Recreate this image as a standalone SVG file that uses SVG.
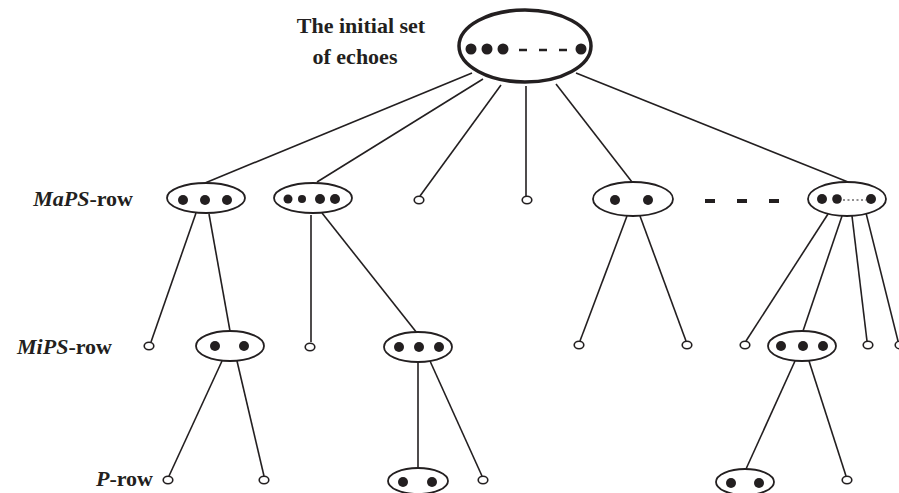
<svg xmlns="http://www.w3.org/2000/svg" width="899" height="493" viewBox="0 0 899 493">
<style>
.lbl{font-family:"Liberation Serif","Times New Roman",serif;font-weight:bold;font-size:22px;fill:#231f20}
.it{font-style:italic}
.node{fill:#fff;stroke:#231f20;stroke-width:1.8}
.root{fill:#fff;stroke:#231f20;stroke-width:3.5}
.leaf{fill:#fff;stroke:#231f20;stroke-width:1.6}
.dot{fill:#231f20}
.dash{stroke:#231f20;stroke-width:2.5}
.bigdash{stroke:#231f20;stroke-width:4}
.edge line{stroke:#231f20;stroke-width:1.6}
</style>
<rect width="899" height="493" fill="#fff"/>
<g id="labels">
<text class="lbl" x="361" y="33" text-anchor="middle">The initial set</text>
<text class="lbl" x="355" y="64" text-anchor="middle">of echoes</text>
<text class="lbl" x="133" y="206" text-anchor="end"><tspan class="it">MaPS</tspan>-row</text>
<text class="lbl" x="112" y="354" text-anchor="end"><tspan class="it">MiPS</tspan>-row</text>
<text class="lbl" x="153" y="486" text-anchor="end"><tspan class="it">P</tspan>-row</text>
</g>
<g id="connectors" class="edge">
<line x1="472" y1="73" x2="205" y2="183"/>
<line x1="483" y1="79" x2="317" y2="182"/>
<line x1="501" y1="85" x2="420" y2="196"/>
<line x1="526" y1="86" x2="526" y2="196"/>
<line x1="556" y1="84" x2="632" y2="182"/>
<line x1="576" y1="73" x2="848" y2="182"/>
<line x1="196" y1="213" x2="151" y2="342"/>
<line x1="209" y1="214" x2="230" y2="331"/>
<line x1="311" y1="215" x2="311" y2="342"/>
<line x1="322" y1="213" x2="417" y2="333"/>
<line x1="627" y1="216" x2="580" y2="341"/>
<line x1="640" y1="216" x2="686" y2="341"/>
<line x1="828" y1="214" x2="746" y2="341"/>
<line x1="842" y1="216" x2="803" y2="331"/>
<line x1="852" y1="216" x2="867" y2="341"/>
<line x1="866" y1="213" x2="898" y2="341"/>
<line x1="222" y1="361" x2="169" y2="476"/>
<line x1="237" y1="361" x2="264" y2="476"/>
<line x1="418" y1="363" x2="418" y2="468"/>
<line x1="430" y1="361" x2="482" y2="476"/>
<line x1="795" y1="361" x2="746" y2="469"/>
<line x1="809" y1="361" x2="846" y2="476"/>
</g>
<g id="root">
<ellipse class="root" cx="525" cy="46" rx="66" ry="36"/>
<circle class="dot" cx="471" cy="49" r="5.5"/>
<circle class="dot" cx="487" cy="49" r="5.5"/>
<circle class="dot" cx="503" cy="49" r="5.5"/>
<line class="dash" x1="519" y1="50" x2="527" y2="50"/>
<line class="dash" x1="539" y1="50" x2="547" y2="50"/>
<line class="dash" x1="559" y1="50" x2="567" y2="50"/>
<circle class="dot" cx="581" cy="49" r="5.5"/>
</g>
<g id="maps1">
<ellipse class="node" cx="206" cy="198" rx="39" ry="15"/>
<circle class="dot" cx="183" cy="200" r="5"/>
<circle class="dot" cx="205" cy="200" r="5"/>
<circle class="dot" cx="227" cy="200" r="5"/>
</g>
<g id="maps2">
<ellipse class="node" cx="313" cy="198" rx="39" ry="15"/>
<circle class="dot" cx="288" cy="199" r="4.5"/>
<circle class="dot" cx="302" cy="199" r="4"/>
<circle class="dot" cx="320" cy="199" r="5"/>
<circle class="dot" cx="335" cy="199" r="5"/>
</g>
<g id="maps3"><ellipse class="leaf" cx="419" cy="200" rx="4.8" ry="3.8"/></g>
<g id="maps4"><ellipse class="leaf" cx="527" cy="200" rx="4.8" ry="3.8"/></g>
<g id="maps5">
<ellipse class="node" cx="633" cy="199" rx="40" ry="17"/>
<circle class="dot" cx="615" cy="200" r="5"/>
<circle class="dot" cx="648" cy="200" r="5"/>
</g>
<g id="maps-gap">
<line class="bigdash" x1="705" y1="201" x2="715" y2="201"/>
<line class="bigdash" x1="737" y1="201" x2="747" y2="201"/>
<line class="bigdash" x1="769" y1="201" x2="779" y2="201"/>
</g>
<g id="maps6">
<ellipse class="node" cx="847" cy="199" rx="39" ry="17"/>
<circle class="dot" cx="822" cy="199" r="5"/>
<circle class="dot" cx="837" cy="199" r="4.8"/>
<line x1="843" y1="200" x2="866" y2="200" stroke="#231f20" stroke-width="1.2" stroke-dasharray="2 2.5"/>
<circle class="dot" cx="871" cy="199" r="5"/>
</g>
<g id="mips1"><ellipse class="leaf" cx="149" cy="346" rx="4.8" ry="3.8"/></g>
<g id="mips2">
<ellipse class="node" cx="230" cy="346" rx="34" ry="15"/>
<circle class="dot" cx="215" cy="346" r="5"/>
<circle class="dot" cx="244" cy="346" r="5"/>
</g>
<g id="mips3"><ellipse class="leaf" cx="310" cy="347" rx="4.8" ry="3.8"/></g>
<g id="mips4">
<ellipse class="node" cx="418" cy="347" rx="34" ry="15"/>
<circle class="dot" cx="399" cy="347" r="5"/>
<circle class="dot" cx="419" cy="347" r="5"/>
<circle class="dot" cx="439" cy="347" r="5"/>
</g>
<g id="mips5"><ellipse class="leaf" cx="579" cy="345" rx="4.8" ry="3.8"/></g>
<g id="mips6"><ellipse class="leaf" cx="687" cy="345" rx="4.8" ry="3.8"/></g>
<g id="mips7"><ellipse class="leaf" cx="745" cy="345" rx="4.8" ry="3.8"/></g>
<g id="mips8">
<ellipse class="node" cx="802" cy="346" rx="34" ry="15"/>
<circle class="dot" cx="781" cy="346" r="5"/>
<circle class="dot" cx="803" cy="346" r="5"/>
<circle class="dot" cx="823" cy="346" r="5"/>
</g>
<g id="mips9"><ellipse class="leaf" cx="868" cy="345" rx="4.8" ry="3.8"/></g>
<g id="mips10"><ellipse class="leaf" cx="900" cy="345" rx="4.8" ry="3.8"/></g>
<g id="p1"><ellipse class="leaf" cx="168" cy="480" rx="4.8" ry="3.8"/></g>
<g id="p2"><ellipse class="leaf" cx="264" cy="480" rx="4.8" ry="3.8"/></g>
<g id="p3">
<ellipse class="node" cx="418" cy="481" rx="30" ry="13"/>
<circle class="dot" cx="403" cy="482" r="5"/>
<circle class="dot" cx="432" cy="482" r="5"/>
</g>
<g id="p4"><ellipse class="leaf" cx="483" cy="480" rx="4.8" ry="3.8"/></g>
<g id="p5">
<ellipse class="node" cx="745" cy="482" rx="29" ry="13"/>
<circle class="dot" cx="731" cy="483" r="5"/>
<circle class="dot" cx="759" cy="483" r="5"/>
</g>
<g id="p6"><ellipse class="leaf" cx="847" cy="480" rx="4.8" ry="3.8"/></g>
</svg>
